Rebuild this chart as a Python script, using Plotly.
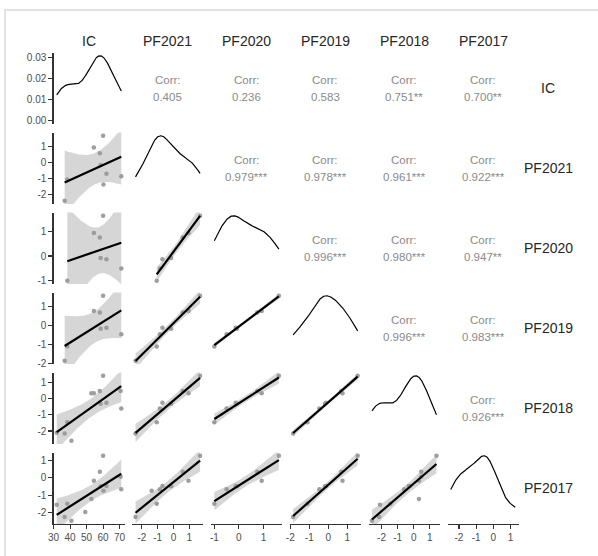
import numpy as np
import plotly.graph_objects as go

# ---------------- data ----------------
variables = ["IC", "PF2021", "PF2020", "PF2019", "PF2018", "PF2017"]
IC     = [31.9, 36.7, 38.3, 40.8, 49.2, 52.9, 54.4, 58.0, 58.5, 60.0, 60.2, 62.0, 70.6, 71.0]
PF2021 = [None, -2.40, -1.06, None, None, None, 0.95, 0.58, -0.15, 1.68, -1.38, -0.70, None, -0.86]
PF2020 = [None, None, -1.00, None, None, None, 0.93, 0.75, -0.08, 1.63, None, -0.13, None, -0.50]
PF2019 = [None, -1.85, -1.10, None, None, None, 0.75, 0.68, -0.17, 1.55, None, -0.12, None, -0.47]
PF2018 = [-2.10, -2.15, -1.45, -2.60, None, 0.33, 0.33, 0.47, -0.31, 1.42, None, -0.25, 0.47, -0.60]
PF2017 = [-1.55, -2.27, -1.50, -2.48, -1.98, -1.22, -0.16, 0.35, -0.49, 1.28, -0.74, -0.47, 0.06, -0.66]

# correlation labels of the upper triangle, row by row
corr_row_IC     = ["0.405", "0.236", "0.583", "0.751**", "0.700**"]
corr_row_PF2021 = ["0.979***", "0.978***", "0.961***", "0.922***"]
corr_row_PF2020 = ["0.996***", "0.980***", "0.947**"]
corr_row_PF2019 = ["0.996***", "0.983***"]
corr_row_PF2018 = ["0.926***"]
corr_rows = [corr_row_IC, corr_row_PF2021, corr_row_PF2020, corr_row_PF2019, corr_row_PF2018]

# tick values / labels
y_tick_vals_row1 = [0.0, 0.01, 0.02, 0.03]
y_tick_text_row1 = ["0.00", "0.01", "0.02", "0.03"]
y_ticks_rows = [None, [-2, -1, 0, 1], [-1, 0, 1], [-2, -1, 0, 1], [-2, -1, 0, 1], [-2, -1, 0, 1]]
x_ticks_cols = [[30, 40, 50, 60, 70], [-2, -1, 0, 1], [-1, 0, 1], [-2, -1, 0, 1], [-2, -1, 0, 1], [-2, -1, 0, 1]]

series = [IC, PF2021, PF2020, PF2019, PF2018, PF2017]
data = [np.array([np.nan if v is None else v for v in s], dtype=float) for s in series]

# ---------------- helpers ----------------
T975 = {3: 3.182, 4: 2.776, 5: 2.571, 6: 2.447, 7: 2.365, 8: 2.306, 9: 2.262,
        10: 2.228, 11: 2.201, 12: 2.179, 13: 2.160}


def expand(lo, hi, f=0.05):
    r = hi - lo
    return [lo - f * r, hi + f * r]


def bw_nrd0(x):
    sd = np.std(x, ddof=1)
    q1, q3 = np.percentile(x, [25, 75])
    lo = min(sd, (q3 - q1) / 1.34)
    return 0.9 * lo * len(x) ** (-0.2)


def kde(x):
    bw = bw_nrd0(x)
    g = np.linspace(x.min(), x.max(), 512)
    d = np.exp(-0.5 * ((g[:, None] - x[None, :]) / bw) ** 2).sum(axis=1)
    d /= len(x) * bw * np.sqrt(2 * np.pi)
    return g, d


def lmfit(x, y):
    n = len(x)
    b, a = np.polyfit(x, y, 1)
    res = y - (a + b * x)
    s = np.sqrt((res ** 2).sum() / (n - 2))
    xm = x.mean()
    sxx = ((x - xm) ** 2).sum()
    g = np.linspace(x.min(), x.max(), 80)
    fit = a + b * g
    se = s * np.sqrt(1.0 / n + (g - xm) ** 2 / sxx)
    t = T975[n - 2]
    return g, fit, fit - t * se, fit + t * se


# ---------------- layout geometry (pixels) ----------------
W, H = 598, 556
col_left0, col_step, col_w = 53.5, 78.8, 71.0
row_top0, row_step, row_h = 52.5, 80.0, 71.5

FONT = "Liberation Sans, Arial, Helvetica, sans-serif"
TICK_FONT = dict(family=FONT, size=10, color="#4d4d4d")

fig = go.Figure()
layout_axes = {}
annotations = []

nvar = len(variables)
k = 0
for r in range(nvar):
    for c in range(nvar):
        x0 = col_left0 + c * col_step
        x1 = x0 + col_w
        y0 = row_top0 + r * row_step
        y1 = y0 + row_h
        xc = (x0 + x1) / 2
        yc = (y0 + y1) / 2
        if c > r:
            lab = corr_rows[r][c - r - 1]
            annotations.append(dict(x=xc / W, y=1 - (yc - 8) / H, xref="paper", yref="paper",
                                    text="Corr:", showarrow=False,
                                    font=dict(family=FONT, size=11.5, color="#8a8a8a"),
                                    xanchor="center", yanchor="middle"))
            annotations.append(dict(x=xc / W, y=1 - (yc + 9) / H, xref="paper", yref="paper",
                                    text=lab, showarrow=False,
                                    font=dict(family=FONT, size=11.5, color="#8a8a8a"),
                                    xanchor="center", yanchor="middle"))
            continue
        k += 1
        xa = "x" if k == 1 else f"x{k}"
        ya = "y" if k == 1 else f"y{k}"
        xv = data[c]
        xr = expand(np.nanmin(xv), np.nanmax(xv))
        if r == c:
            xs = xv[~np.isnan(xv)]
            g, d = kde(xs)
            yr = expand(0.0, d.max())
            fig.add_trace(go.Scatter(x=g, y=d, mode="lines", xaxis=xa, yaxis=ya,
                                     line=dict(color="black", width=1.2), hoverinfo="skip"))
        else:
            yv = data[r]
            yr = expand(np.nanmin(yv), np.nanmax(yv))
            m = ~np.isnan(xv) & ~np.isnan(yv)
            px, py = xv[m], yv[m]
            fig.add_trace(go.Scatter(x=px, y=py, mode="markers", xaxis=xa, yaxis=ya,
                                     marker=dict(color="#9e9e9e", size=4.5), hoverinfo="skip"))
            g, fit, lo, hi = lmfit(px, py)
            fig.add_trace(go.Scatter(x=np.concatenate([g, g[::-1]]),
                                     y=np.concatenate([lo, hi[::-1]]),
                                     mode="lines", fill="toself", xaxis=xa, yaxis=ya,
                                     fillcolor="rgba(153,153,153,0.4)",
                                     line=dict(width=0), hoverinfo="skip"))
            fig.add_trace(go.Scatter(x=g, y=fit, mode="lines", xaxis=xa, yaxis=ya,
                                     line=dict(color="black", width=2.2), hoverinfo="skip"))

        xaxis = dict(domain=[x0 / W, x1 / W], range=xr, anchor=ya, automargin=False,
                     showgrid=False, zeroline=False, fixedrange=True)
        yaxis = dict(domain=[1 - y1 / H, 1 - y0 / H], range=yr, anchor=xa, automargin=False,
                     showgrid=False, zeroline=False, fixedrange=True)
        if r == nvar - 1:
            xaxis.update(showline=True, linecolor="#333333", linewidth=1.2, ticks="outside",
                         ticklen=4, tickwidth=1.2, tickcolor="#333333",
                         tickvals=x_ticks_cols[c], ticktext=[str(v) for v in x_ticks_cols[c]],
                         tickfont=TICK_FONT, showticklabels=True)
        else:
            xaxis.update(showline=False, ticks="", showticklabels=False)
        if c == 0:
            if r == 0:
                tv, tt = y_tick_vals_row1, y_tick_text_row1
            else:
                tv = y_ticks_rows[r]
                tt = [str(v) for v in tv]
            yaxis.update(showline=True, linecolor="#333333", linewidth=1.2, ticks="outside",
                         ticklen=4, tickwidth=1.2, tickcolor="#333333",
                         tickvals=tv, ticktext=tt, tickfont=TICK_FONT, showticklabels=True)
        else:
            yaxis.update(showline=False, ticks="", showticklabels=False)
        layout_axes["xaxis" if k == 1 else f"xaxis{k}"] = xaxis
        layout_axes["yaxis" if k == 1 else f"yaxis{k}"] = yaxis

# column headers and row labels
for i, name in enumerate(variables):
    cx = col_left0 + i * col_step + col_w / 2
    annotations.append(dict(x=cx / W, y=1 - 41 / H, xref="paper", yref="paper", text=name,
                            showarrow=False, font=dict(family=FONT, size=14, color="#262626"),
                            xanchor="center", yanchor="middle"))
    cy = row_top0 + i * row_step + row_h / 2
    annotations.append(dict(x=548 / W, y=1 - cy / H, xref="paper", yref="paper", text=name,
                            showarrow=False, font=dict(family=FONT, size=14, color="#262626"),
                            xanchor="center", yanchor="middle"))

fig.update_layout(
    width=W, height=H,
    margin=dict(l=0, r=0, t=0, b=0),
    paper_bgcolor="white", plot_bgcolor="white",
    showlegend=False,
    hovermode=False,
    annotations=annotations,
    shapes=[dict(type="rect", xref="paper", yref="paper",
                 x0=5 / W, x1=1.02, y0=-0.02, y1=1 - 10 / H,
                 line=dict(color="#e3e3e3", width=2), fillcolor="rgba(0,0,0,0)", layer="below")],
    **layout_axes,
)

fig.write_html("out.html", config={"displayModeBar": False, "staticPlot": True},
               post_script="document.body.style.margin='0px';document.body.style.overflow='hidden';")
